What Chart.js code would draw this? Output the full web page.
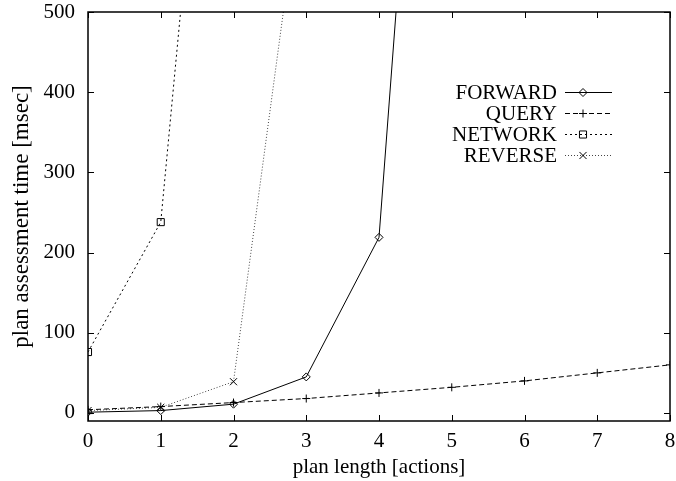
<!DOCTYPE html>
<html>
<head>
<meta charset="utf-8">
<script src="https://cdn.jsdelivr.net/npm/chart.js@4/dist/chart.umd.min.js"></script>
<style>
  html, body { margin: 0; padding: 0; background: #fff; }
  #wrap { width: 676px; height: 481px; }
</style>
</head>
<body>
<div id="wrap"><canvas id="c" width="676" height="481"></canvas></div>
<script>
// ---- data ----
const planLength = [0, 1, 2, 3, 4, 5, 6, 7, 8];
const forwardMs = [1, 3, 11, 45, 219, 1420];
const queryMs   = [4, 8, 13, 18, 25, 32, 40, 50, 60];
const networkMs = [76, 238, 1200];
const reverseMs = [3, 7, 39, 712];
const seriesNames = ['FORWARD', 'QUERY', 'NETWORK', 'REVERSE'];
const xTicks = [0, 1, 2, 3, 4, 5, 6, 7, 8];
const yTicks = [0, 100, 200, 300, 400, 500];
const xTitle = 'plan length [actions]';
const yTitle = 'plan assessment time [msec]';

const toXY = arr => arr.map((v, i) => ({ x: planLength[i], y: v }));

const FONT = '"Liberation Serif", "Times New Roman", serif';

function ds(label, data, style, dash, radius) {
  return {
    label, data: toXY(data),
    borderColor: '#000', backgroundColor: 'rgba(0,0,0,0)',
    borderWidth: 1, borderDash: dash,
    pointStyle: style, pointRadius: radius, pointHoverRadius: radius,
    pointBorderColor: '#000', pointBackgroundColor: 'rgba(0,0,0,0)',
    pointBorderWidth: 1, tension: 0, fill: false
  };
}

const datasets = [
  ds(seriesNames[0], forwardMs, 'rectRot', [], 4),
  ds(seriesNames[1], queryMs, 'cross', [5, 3], 4),
  ds(seriesNames[2], networkMs, 'rect', [2, 3], 5),
  ds(seriesNames[3], reverseMs, 'crossRot', [1, 2], 5)
];
datasets[3].borderColor = '#444';

const frame = {
  id: 'frame',
  afterDatasetsDraw(chart) {
    const { ctx, chartArea: a, scales } = chart;
    const xs = scales.x, ys = scales.y;
    const TL = 6;
    ctx.save();
    ctx.strokeStyle = '#000';
    ctx.lineWidth = 1.5;
    ctx.strokeRect(a.left, a.top, a.right - a.left, a.bottom - a.top);
    ctx.lineWidth = 1;
    ctx.beginPath();
    xTicks.forEach(v => {
      const px = Math.round(xs.getPixelForValue(v)) + 0.5;
      ctx.moveTo(px, a.bottom); ctx.lineTo(px, a.bottom - TL);
      ctx.moveTo(px, a.top); ctx.lineTo(px, a.top + TL);
    });
    yTicks.forEach(v => {
      const py = Math.round(ys.getPixelForValue(v)) + 0.5;
      ctx.moveTo(a.left, py); ctx.lineTo(a.left + TL, py);
      ctx.moveTo(a.right, py); ctx.lineTo(a.right - TL, py);
    });
    ctx.stroke();

    // legend
    const textRight = 557, lineL = 565, lineR = 612, markX = 583;
    const rows = [92, 113, 134, 155];
    ctx.font = '21px ' + FONT;
    ctx.fillStyle = '#000';
    ctx.textAlign = 'right';
    ctx.textBaseline = 'middle';
    chart.data.datasets.forEach((d, i) => {
      const y = rows[i];
      ctx.fillText(d.label, textRight, y + 1);
      ctx.save();
      ctx.strokeStyle = d.borderColor;
      ctx.lineWidth = d.borderWidth;
      ctx.setLineDash(d.borderDash);
      ctx.beginPath();
      ctx.moveTo(lineL, y + 0.5); ctx.lineTo(lineR, y + 0.5);
      ctx.stroke();
      ctx.restore();
      ctx.save();
      ctx.strokeStyle = '#000';
      ctx.fillStyle = 'rgba(0,0,0,0)';
      ctx.lineWidth = 1;
      Chart.helpers.drawPoint(ctx, { pointStyle: d.pointStyle, radius: d.pointRadius, rotation: 0, borderWidth: 1 }, markX, y + 0.5);
      ctx.restore();
    });
    ctx.restore();
  }
};

function zeroPad(s) { s.paddingLeft = 0; s.paddingRight = 0; s.paddingTop = 0; s.paddingBottom = 0; }

new Chart(document.getElementById('c'), {
  type: 'line',
  data: { datasets },
  options: {
    responsive: false,
    animation: false,
    devicePixelRatio: 1,
    layout: { padding: { left: 0, right: 6, top: 12, bottom: 0 } },
    plugins: { legend: { display: false }, tooltip: { enabled: false } },
    scales: {
      x: {
        type: 'linear', min: 0, max: 8,
        afterBuildTicks: s => { s.ticks = xTicks.map(v => ({ value: v })); },
        afterFit: s => { s.height = 60; zeroPad(s); },
        grid: { display: false, drawTicks: false },
        border: { display: false },
        ticks: { color: '#000', font: { family: FONT, size: 21 }, padding: 8, maxRotation: 0 },
        title: { display: true, text: xTitle, color: '#000', font: { family: FONT, size: 21 }, padding: { top: 0, bottom: 1 } }
      },
      y: {
        type: 'linear', min: -10, max: 500,
        afterBuildTicks: s => { s.ticks = yTicks.map(v => ({ value: v })); },
        afterFit: s => { s.width = 88; zeroPad(s); },
        grid: { display: false, drawTicks: false },
        border: { display: false },
        ticks: { color: '#000', font: { family: FONT, size: 21 }, padding: 13 },
        title: { display: true, text: yTitle, color: '#000', font: { family: FONT, size: 23 }, padding: { top: 8, bottom: 0 } }
      }
    }
  },
  plugins: [frame]
});
</script>
</body>
</html>
